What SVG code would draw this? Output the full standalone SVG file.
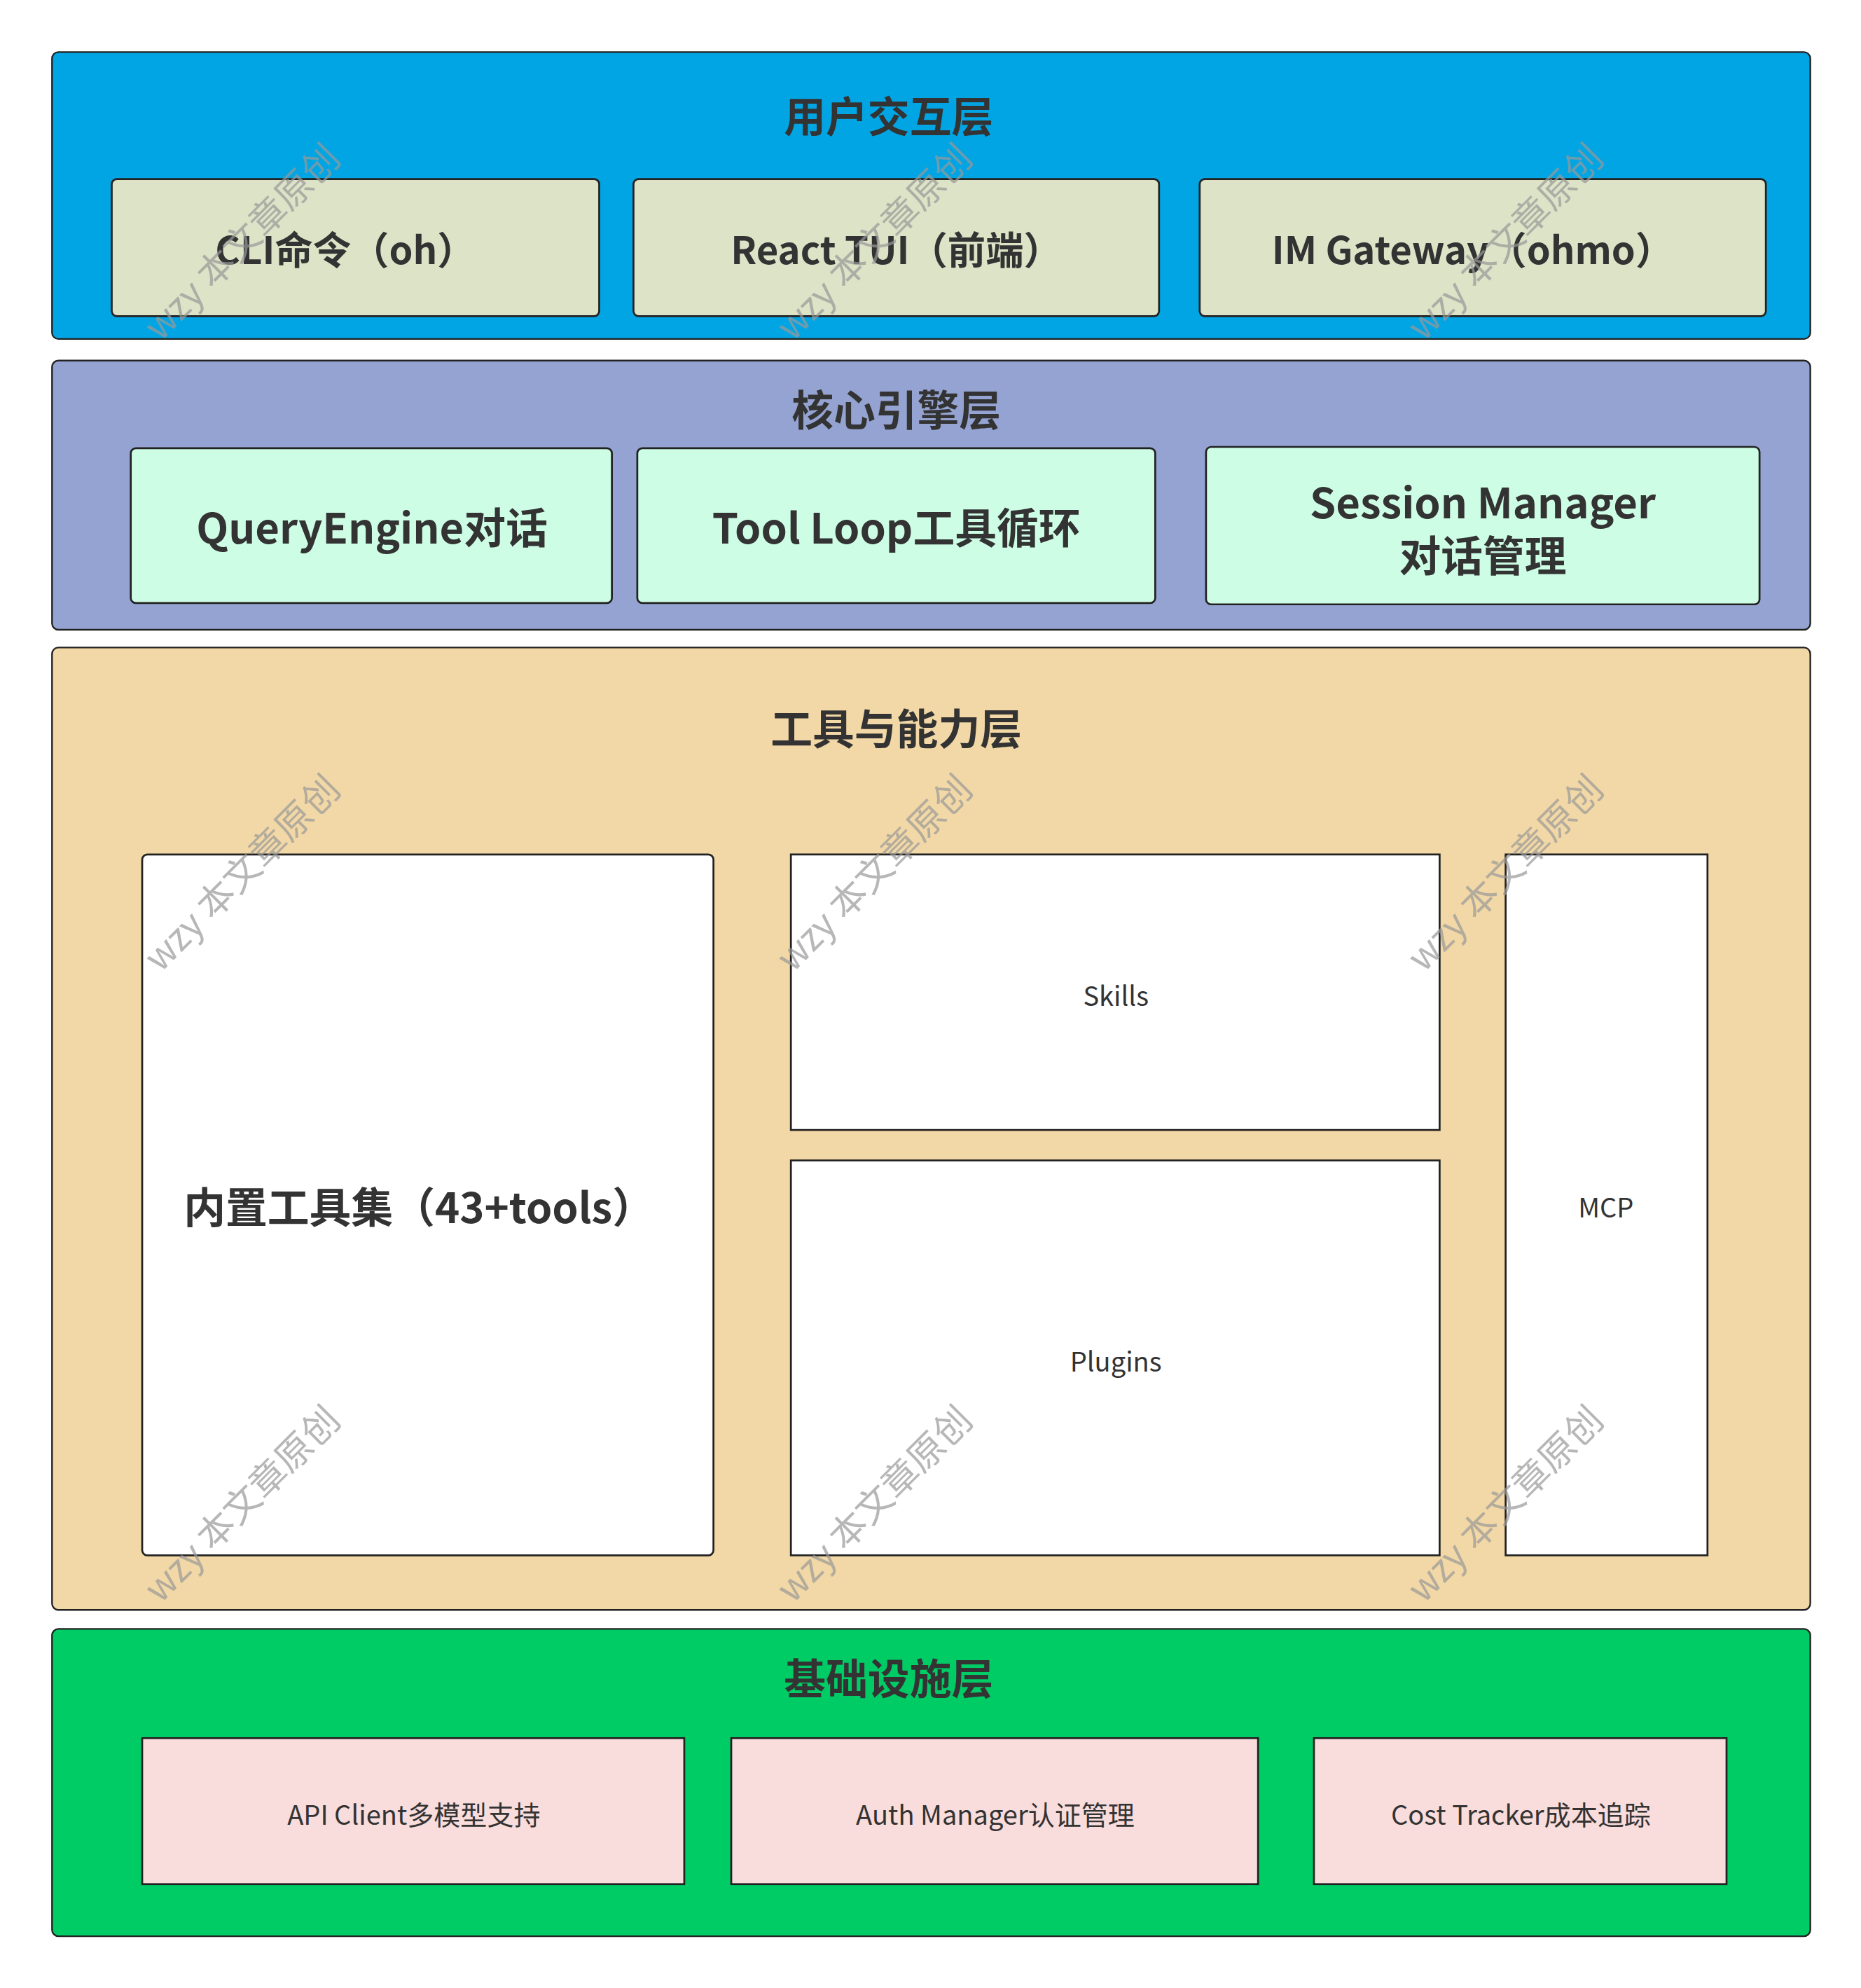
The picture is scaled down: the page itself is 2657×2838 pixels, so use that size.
<svg xmlns="http://www.w3.org/2000/svg" width="2657" height="2838" viewBox="0 0 2657 2838">
<style>
.l{stroke:#222;stroke-width:1.3}
.b{stroke:#222;stroke-width:1.5}
text{font-family:"Noto Sans CJK SC","Noto Sans",sans-serif;fill:#333;text-anchor:middle;dominant-baseline:central}
.t{font-size:33px;font-weight:bold}
.m{font-size:30px;font-weight:bold}
.n{font-size:33px;font-weight:bold}
.s{font-size:21px}
.w{font-size:29px;fill:#999;opacity:0.7}
</style>
<rect width="2657" height="2838" fill="#fff"/>
<g transform="scale(1.8125)">
<g id="layer1">
<rect class="l" x="41" y="41" width="1385" height="226" rx="5" fill="#02a5e3"/>
<text class="t" x="700" y="90">用户交互层</text>
</g>
<g id="cli"><rect class="b" x="88" y="141" width="384" height="108" rx="4" fill="#dce3c6"/><text class="m" x="272" y="195">CLI命令（oh）</text></g>
<g id="tui"><rect class="b" x="499" y="141" width="414" height="108" rx="4" fill="#dce3c6"/><text class="m" x="706" y="195">React TUI（前端）</text></g>
<g id="im"><rect class="b" x="945" y="141" width="446" height="108" rx="4" fill="#dce3c6"/><text class="m" x="1160" y="195">IM Gateway（ohmo）</text></g>

<g id="layer2">
<rect class="l" x="41" y="284" width="1385" height="212" rx="5" fill="#94a3d1"/>
<text class="t" x="706" y="321">核心引擎层</text>
</g>
<g id="qe"><rect class="b" x="103" y="353" width="379" height="122" rx="4" fill="#cdfde5"/><text class="n" x="293" y="414">QueryEngine对话</text></g>
<g id="tl"><rect class="b" x="502" y="353" width="408" height="122" rx="4" fill="#cdfde5"/><text class="n" x="706" y="414">Tool Loop工具循环</text></g>
<g id="sm"><rect class="b" x="950" y="352" width="436" height="124" rx="4" fill="#cdfde5"/><text class="n" x="1168" y="394">Session Manager</text><text class="n" x="1168" y="436">对话管理</text></g>

<g id="layer3">
<rect class="l" x="41" y="510" width="1385" height="758" rx="5" fill="#f2d8a6"/>
<text class="t" x="706" y="572">工具与能力层</text>
</g>
<g id="builtin"><rect class="b" x="112" y="673" width="450" height="552" rx="4" fill="#fff"/><text class="n" x="330" y="949">内置工具集（43+tools）</text></g>
<g id="skills"><rect class="b" x="623" y="673" width="511" height="217" fill="#fff"/><text class="s" x="879" y="783">Skills</text></g>
<g id="plugins"><rect class="b" x="623" y="914" width="511" height="311" fill="#fff"/><text class="s" x="879" y="1071">Plugins</text></g>
<g id="mcp"><rect class="b" x="1186" y="673" width="159" height="552" fill="#fff"/><text class="s" x="1265" y="950">MCP</text></g>

<g id="layer4">
<rect class="l" x="41" y="1283" width="1385" height="242" rx="5" fill="#00cc66"/>
<text class="t" x="700" y="1320">基础设施层</text>
</g>
<g id="api"><rect class="b" x="112" y="1369" width="427" height="115" fill="#f9dcdc"/><text class="s" x="326" y="1428">API Client多模型支持</text></g>
<g id="auth"><rect class="b" x="576" y="1369" width="415" height="115" fill="#f9dcdc"/><text class="s" x="784" y="1428">Auth Manager认证管理</text></g>
<g id="cost"><rect class="b" x="1035" y="1369" width="325" height="115" fill="#f9dcdc"/><text class="s" x="1198" y="1428">Cost Tracker成本追踪</text></g>

<g id="connectors"></g>

<g id="watermarks">
<text class="w" transform="translate(189,189) rotate(-45)">wzy 本文章原创</text>
<text class="w" transform="translate(687,189) rotate(-45)">wzy 本文章原创</text>
<text class="w" transform="translate(1184,189) rotate(-45)">wzy 本文章原创</text>
<text class="w" transform="translate(189,686) rotate(-45)">wzy 本文章原创</text>
<text class="w" transform="translate(687,686) rotate(-45)">wzy 本文章原创</text>
<text class="w" transform="translate(1184,686) rotate(-45)">wzy 本文章原创</text>
<text class="w" transform="translate(189,1183) rotate(-45)">wzy 本文章原创</text>
<text class="w" transform="translate(687,1183) rotate(-45)">wzy 本文章原创</text>
<text class="w" transform="translate(1184,1183) rotate(-45)">wzy 本文章原创</text>
</g>
</g>
</svg>
